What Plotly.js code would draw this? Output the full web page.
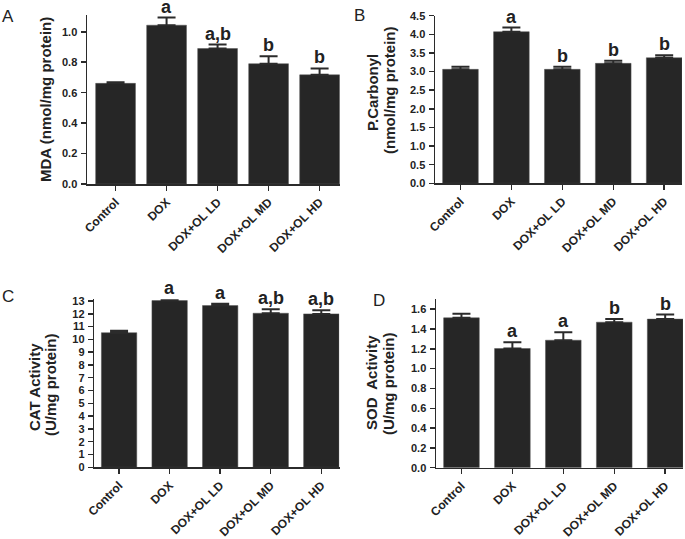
<!DOCTYPE html>
<html><head><meta charset="utf-8">
<script src="https://cdn.plot.ly/plotly-3.0.1.min.js"></script>
<style>html,body{margin:0;padding:0;background:#fff}#chart{width:685px;height:539px}</style>
</head><body><div id="chart"></div>
<script>
const categories = ["Control","DOX","DOX+OL LD","DOX+OL MD","DOX+OL HD"];
const mdaValues = [0.661, 1.043, 0.890, 0.790, 0.717];
const mdaErrors = [0.008, 0.050, 0.026, 0.049, 0.042];
const mdaLetters = ["", "a", "a,b", "b", "b"];
const pcValues = [3.06, 4.07, 3.06, 3.22, 3.37];
const pcErrors = [0.07, 0.11, 0.07, 0.07, 0.07];
const pcLetters = ["", "a", "b", "b", "b"];
const catValues = [10.52, 13.03, 12.64, 12.04, 11.99];
const catErrors = [0.16, 0.10, 0.15, 0.31, 0.28];
const catLetters = ["", "a", "a", "a,b", "a,b"];
const sodValues = [1.513, 1.203, 1.287, 1.469, 1.500];
const sodErrors = [0.040, 0.064, 0.081, 0.031, 0.046];
const sodLetters = ["", "a", "a", "b", "b"];

const W = 685, H = 539;
const BAR = '#262626', AX = '#2b2b2b';
const panels = [
  {vals: mdaValues, errs: mdaErrors, letters: mdaLetters, px:[87,340], py:[15,184], xr:[-0.56,4.4], yr:[0,1.11], dt:0.2, fmt:'.1f', bw:0.78},
  {vals: pcValues, errs: pcErrors, letters: pcLetters, px:[435,682], py:[15.7,183.3], xr:[-0.5,4.35], yr:[0,4.5], dt:0.5, fmt:'.1f', bw:0.7},
  {vals: catValues, errs: catErrors, letters: catLetters, px:[94.3,339.5], py:[299.3,467.3], xr:[-0.49,4.36], yr:[0,13.13], dt:1, fmt:'d', bw:0.7},
  {vals: sodValues, errs: sodErrors, letters: sodLetters, px:[436,683], py:[299.3,467.7], xr:[-0.5,4.35], yr:[0,1.7], dt:0.2, fmt:'.1f', bw:0.7}
];
const data = [], annotations = [];
const layout = {width:W, height:H, margin:{l:0,r:0,t:0,b:0}, paper_bgcolor:'#fff', plot_bgcolor:'rgba(0,0,0,0)', showlegend:false, font:{family:'Arial, Liberation Sans, sans-serif', color:'#222'}};
panels.forEach((p,i)=>{
  const n = i+1, xa = 'x'+(n===1?'':n), ya = 'y'+(n===1?'':n);
  data.push({type:'bar', x:categories, y:p.vals, xaxis:xa, yaxis:ya, width:p.bw,
    marker:{color:BAR, line:{color:'#555', width:0.5}},
    error_y:{type:'data', array:p.errs, arrayminus:p.errs.map(()=>0), symmetric:false, color:AX, thickness:2, width:9},
    hoverinfo:'skip'});
  const xk = 'xaxis'+(n===1?'':n), yk = 'yaxis'+(n===1?'':n);
  layout[xk] = {domain:[p.px[0]/W, p.px[1]/W], range:p.xr, anchor:ya, type:'category',
    showline:true, linecolor:AX, linewidth:1.5, ticks:'outside', ticklen:5, tickwidth:1.5, tickcolor:AX,
    tickangle:-45, tickfont:{size:12, family:'Arial', weight:'bold', color:'#222'}, showgrid:false, zeroline:false, fixedrange:true};
  const tv = [];
  for (let v=0; v<=p.yr[1]+1e-9; v+=p.dt) tv.push(+v.toFixed(3));
  layout[yk] = {domain:[1-p.py[1]/H, 1-p.py[0]/H], range:p.yr, anchor:xa,
    showline:true, linecolor:AX, linewidth:1.5, ticks:'outside', ticklen:5, tickwidth:1.5, tickcolor:AX,
    tickmode:'array', tickvals:tv, ticktext:tv.map(v=>p.fmt==='d'? String(Math.round(v)) : v.toFixed(1)),
    tickfont:{size:11, family:'Arial', weight:'bold', color:'#222'}, ticklabelstandoff:1,
    showgrid:false, zeroline:false, fixedrange:true};
  p.letters.forEach((L,j)=>{
    if(!L) return;
    annotations.push({xref:xa, yref:ya, x:categories[j], y:p.vals[j]+p.errs[j], text:'<b>'+L+'</b>',
      showarrow:false, yanchor:'bottom', yshift:-1, font:{size:18, family:'Arial', color:'#222'}});
  });
});
function vtext(txt, x, y, size){
  annotations.push({xref:'paper', yref:'paper', x:x/W, y:1-y/H, text:'<b>'+txt+'</b>', textangle:-90,
    showarrow:false, xanchor:'center', yanchor:'middle', font:{size:size, family:'Arial', color:'#222'}});
}
vtext('MDA (nmol/mg protein)', 45, 100, 15);
vtext('P.Carbonyl', 372, 93, 15);
vtext('(nmol/mg protein)', 389, 90, 15);
vtext('CAT Activity', 34, 387, 15);
vtext('(U/mg protein)', 50, 384, 15);
vtext('SOD  Activity', 371, 383, 15);
vtext('(U/mg protein)', 388, 384, 15);
function plabel(txt, x, y){
  annotations.push({xref:'paper', yref:'paper', x:x/W, y:1-y/H, text:txt, showarrow:false,
    xanchor:'center', yanchor:'middle', font:{size:17, family:'Arial', color:'#222'}});
}
plabel('A', 8, 17);
plabel('B', 359, 16);
plabel('C', 8, 297);
plabel('D', 379, 300);
layout.annotations = annotations;
Plotly.newPlot('chart', data, layout, {staticPlot:true, displayModeBar:false});
</script></body></html>
